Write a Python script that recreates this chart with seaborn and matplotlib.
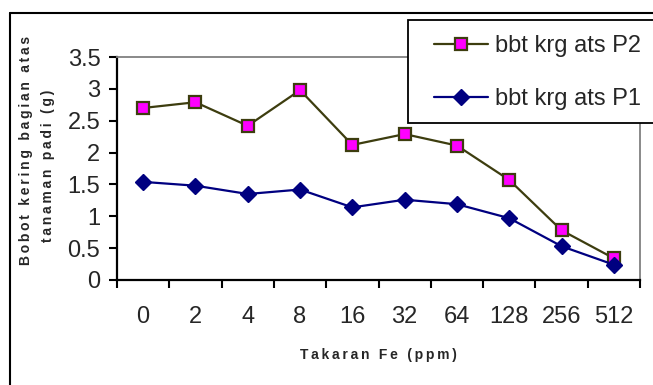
import matplotlib
matplotlib.use("Agg")
import matplotlib.pyplot as plt
from matplotlib.lines import Line2D
from matplotlib.patches import Rectangle
import numpy as np
import pandas as pd
import seaborn as sns

# Fe dose levels (ppm) and shoot dry weight (g) per treatment
doses = ["0", "2", "4", "8", "16", "32", "64", "128", "256", "512"]
bbt_p2 = [2.70, 2.79, 2.42, 2.98, 2.12, 2.29, 2.11, 1.57, 0.78, 0.34]
bbt_p1 = [1.54, 1.48, 1.35, 1.42, 1.14, 1.26, 1.19, 0.97, 0.53, 0.24]
y_ticks = [0, 0.5, 1, 1.5, 2, 2.5, 3, 3.5]
y_tick_labels = ["0", "0.5", "1", "1.5", "2", "2.5", "3", "3.5"]

sns.set_style("white")
plt.rcParams["font.family"] = ["Liberation Sans", "DejaVu Sans"]

W, H = 653, 385
fig = plt.figure(figsize=(W / 100, H / 100), dpi=100)

def fx(px):
    return px / W

def fy(py):
    return 1 - py / H

# outer chart frame (top and left edges)
fig.add_artist(Line2D([fx(10), fx(653)], [fy(13), fy(13)], color="black", lw=1.5))
fig.add_artist(Line2D([fx(10), fx(10)], [fy(13), fy(385)], color="black", lw=1.5))

ax = fig.add_axes([fx(117), fy(280), fx(640) - fx(117), fy(57) - fy(280)])

pos = np.arange(len(doses))
df = pd.DataFrame({"pos": pos, "p2": bbt_p2, "p1": bbt_p1})

sns.lineplot(data=df, x="pos", y="p2", ax=ax, color="#3d3d0f", lw=1.6,
             marker="s", markersize=9, markerfacecolor="#ff00ff",
             markeredgecolor="#3d3d0f", markeredgewidth=1.6,
             label="bbt krg ats P2", sort=False, clip_on=False, zorder=3)
sns.lineplot(data=df, x="pos", y="p1", ax=ax, color="#000080", lw=1.6,
             marker="D", markersize=8.5, markerfacecolor="#000080",
             markeredgecolor="#000080", markeredgewidth=1,
             label="bbt krg ats P1", sort=False, clip_on=False, zorder=3)

ax.set_xlim(-0.5, len(doses) - 0.5)
ax.set_ylim(0, 3.5)

# category boundaries carry the tick marks, centres carry the labels
ax.set_xticks(np.arange(-0.5, len(doses), 1.0))
ax.set_xticklabels([])
ax.set_xticks(pos, minor=True)
ax.set_xticklabels(doses, minor=True, fontsize=17)
ax.tick_params(axis="x", which="major", direction="out", length=6, width=1.5,
               color="black", bottom=True)
ax.tick_params(axis="x", which="minor", length=0, pad=19)

ax.set_yticks(y_ticks)
ax.set_yticklabels(y_tick_labels, fontsize=17)
ax.tick_params(axis="y", direction="out", length=6, width=1.5, color="black",
               pad=6, left=True)

for side in ("left", "bottom"):
    ax.spines[side].set_color("black")
    ax.spines[side].set_linewidth(1.6)
for side in ("top", "right"):
    ax.spines[side].set_color("#808080")
    ax.spines[side].set_linewidth(1.3)
ax.grid(False)

ax.set_xlabel("")
ax.set_ylabel("")
ts = "\u2009"
fig.text(fx(378), fy(355), ts.join("Takaran Fe (ppm)"), ha="center", va="center",
         fontsize=10, fontweight="bold", family=["Liberation Sans", "DejaVu Sans"])
fig.text(fx(26), fy(150), ts.join("Bobot kering bagian atas"), ha="center", va="center",
         rotation=90, fontsize=10, fontweight="heavy",
         family=["Liberation Sans", "DejaVu Sans"])
fig.text(fx(48), fy(166), ts.join("tanaman padi (g)"), ha="center", va="center",
         rotation=90, fontsize=10, fontweight="heavy",
         family=["Liberation Sans", "DejaVu Sans"])

# legend box
fig.add_artist(Rectangle((fx(408), fy(123)), fx(660) - fx(408), fy(20) - fy(123),
                         facecolor="white", edgecolor="black", lw=1.3, zorder=5))
leg = ax.legend(loc="upper left", bbox_to_anchor=(fx(434), fy(35)),
                bbox_transform=fig.transFigure, frameon=False, fontsize=17,
                handlelength=2.3, handletextpad=0.3, labelspacing=1.32,
                borderpad=0, borderaxespad=0)
leg.set_zorder(6)
leg.remove()
fig.add_artist(leg)

fig.savefig("out.png", dpi=100)
